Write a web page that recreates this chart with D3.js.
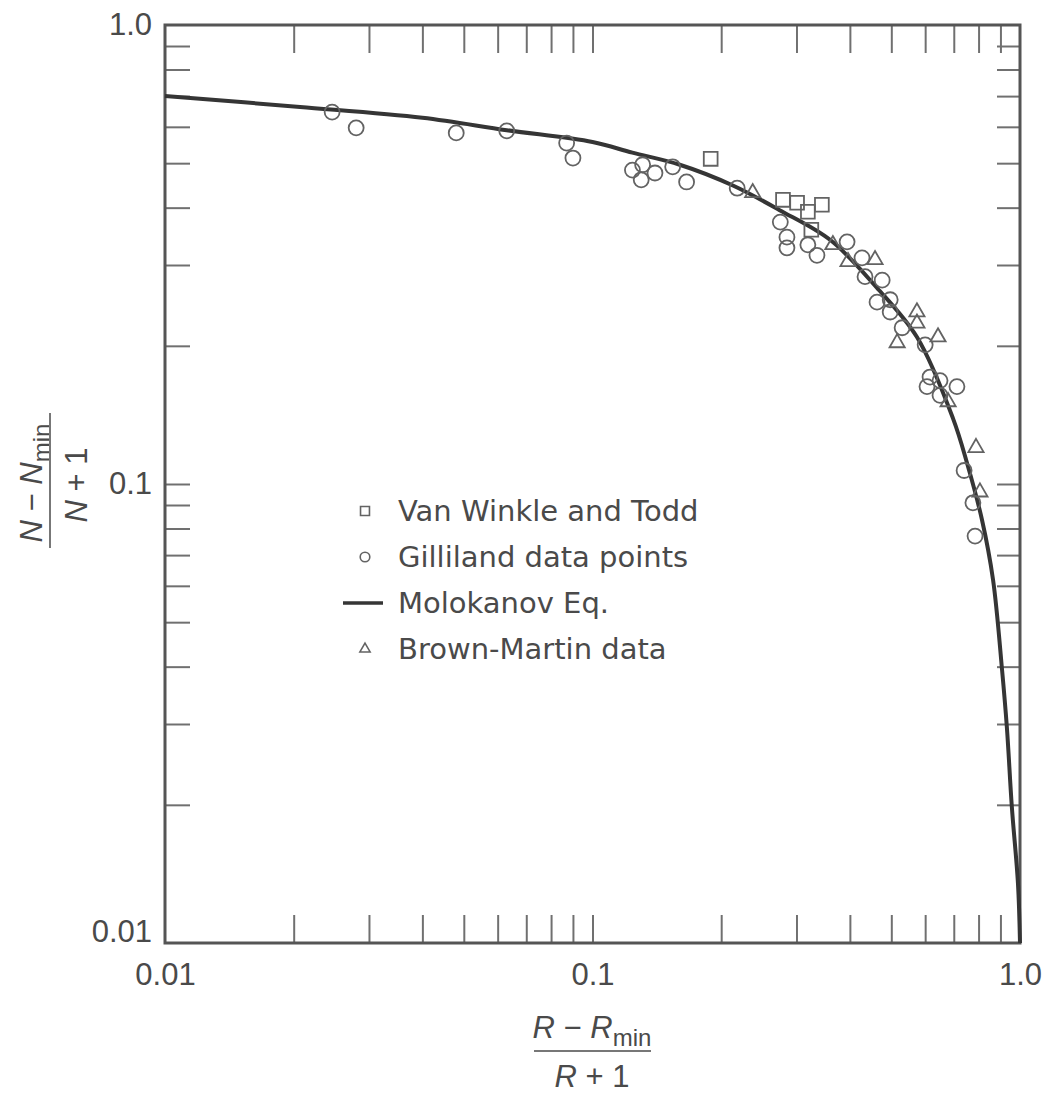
<!DOCTYPE html>
<html>
<head>
<meta charset="utf-8">
<script src="https://cdn.jsdelivr.net/npm/d3@7"></script>
<style>
  body { margin: 0; background: #fff; }
  svg { display: block; }
</style>
</head>
<body>
<div id="chart"></div>
<script>
// Molokanov curve
const curveX = [0.01, 0.0207, 0.04, 0.063, 0.1, 0.124, 0.16, 0.213, 0.274, 0.36, 0.462, 0.574, 0.697, 0.752, 0.815, 0.865, 0.908, 0.932, 0.957, 0.989, 1.0];
const curveY = [0.70, 0.663, 0.628, 0.59, 0.556, 0.527, 0.496, 0.447, 0.395, 0.34, 0.268, 0.209, 0.139, 0.111, 0.0835, 0.0618, 0.0393, 0.0294, 0.0198, 0.0135, 0.01];

// Gilliland data points (circles)
const gillilandX = [0.0246, 0.028, 0.048, 0.063, 0.087, 0.090, 0.124, 0.131, 0.130, 0.140, 0.154, 0.166, 0.218, 0.275, 0.285, 0.285, 0.319, 0.335, 0.394, 0.427, 0.434, 0.476, 0.463, 0.497, 0.497, 0.530, 0.600, 0.606, 0.650, 0.712, 0.616, 0.650, 0.740, 0.776, 0.785];
const gillilandY = [0.646, 0.597, 0.582, 0.588, 0.553, 0.513, 0.483, 0.496, 0.460, 0.476, 0.491, 0.455, 0.441, 0.372, 0.345, 0.327, 0.332, 0.315, 0.337, 0.311, 0.283, 0.278, 0.249, 0.252, 0.237, 0.219, 0.201, 0.163, 0.156, 0.163, 0.171, 0.168, 0.107, 0.091, 0.077];

// Van Winkle and Todd (squares)
const vanWinkleX = [0.189, 0.279, 0.301, 0.319, 0.344, 0.325];
const vanWinkleY = [0.511, 0.416, 0.410, 0.392, 0.406, 0.358];

// Brown-Martin data (triangles)
const brownMartinX = [0.237, 0.365, 0.396, 0.458, 0.574, 0.574, 0.516, 0.643, 0.679, 0.789, 0.806];
const brownMartinY = [0.431, 0.332, 0.305, 0.308, 0.237, 0.224, 0.203, 0.209, 0.151, 0.120, 0.096];

const majorTicks = [0.01, 0.1, 1];
const majorLabels = ["0.01", "0.1", "1.0"];
const minorTicks = [0.02, 0.03, 0.04, 0.05, 0.06, 0.07, 0.08, 0.09, 0.1, 0.2, 0.3, 0.4, 0.5, 0.6, 0.7, 0.8, 0.9];

const legendLabels = ["Van Winkle and Todd", "Gilliland data points", "Molokanov Eq.", "Brown-Martin data"];

const W = 1049, H = 1095;
const ink = "#4a4a4a";

let svg = d3.select("#chart")
  .append("svg")
  .attr("width", W)
  .attr("height", H)
  .style("background", "#fff");

let x = d3.scaleLog().domain([0.01, 1]).range([165, 1020]);
let y = d3.scaleLog().domain([0.01, 1]).range([943, 25]);

// Inward minor ticks on all four sides

function tickAxis(axis, transform) {
  let g = svg.append("g")
    .attr("transform", transform)
    .call(axis);
  g.select(".domain").remove();
  g.selectAll(".tick line").attr("stroke", "#707070").attr("stroke-width", 2);
  return g;
}

tickAxis(d3.axisBottom(x).tickValues(minorTicks).tickSize(-28).tickFormat(""), "translate(0,943)");
tickAxis(d3.axisTop(x).tickValues(minorTicks).tickSize(-28).tickFormat(""), "translate(0,25)");
tickAxis(d3.axisLeft(y).tickValues(minorTicks).tickSize(-25).tickFormat(""), "translate(165,0)");
tickAxis(d3.axisRight(y).tickValues(minorTicks).tickSize(-23).tickFormat(""), "translate(1020,0)");

// Frame

svg.append("rect")
  .attr("x", x(0.01))
  .attr("y", y(1))
  .attr("width", x(1) - x(0.01))
  .attr("height", y(0.01) - y(1))
  .attr("fill", "none")
  .attr("stroke", "#555")
  .attr("stroke-width", 3);

// Decade labels

let xLabels = svg.append("g")
  .attr("transform", "translate(0,943)")
  .call(d3.axisBottom(x).tickValues(majorTicks).tickSize(0).tickPadding(20)
    .tickFormat((d, i) => majorLabels[i]));
xLabels.select(".domain").remove();

let yLabels = svg.append("g")
  .attr("transform", "translate(165,0)")
  .call(d3.axisLeft(y).tickValues(majorTicks).tickSize(0).tickPadding(13)
    .tickFormat((d, i) => majorLabels[i]));
yLabels.select(".domain").remove();
yLabels.selectAll(".tick text").filter(d => d === 0.01).attr("dy", "-0.05em");

svg.selectAll(".tick text")
  .attr("fill", ink)
  .style("font-family", "'Liberation Sans', Arial, sans-serif")
  .style("font-size", "31px");

// Molokanov curve

const curveData = curveX.map((v, i) => [v, curveY[i]]);

svg.append("path")
  .datum(curveData)
  .attr("d", d3.line()
    .curve(d3.curveCatmullRom.alpha(0.5))
    .x(d => x(d[0]))
    .y(d => y(d[1])))
  .attr("fill", "none")
  .attr("stroke", "#353535")
  .attr("stroke-width", 4);

// Data points

const markStroke = "#636363";

svg.selectAll(".gilliland")
  .data(gillilandX.map((v, i) => [v, gillilandY[i]]))
  .enter()
  .append("circle")
  .attr("cx", d => x(d[0]))
  .attr("cy", d => y(d[1]))
  .attr("r", 7.5)
  .attr("fill", "none")
  .attr("stroke", markStroke)
  .attr("stroke-width", 1.8);

svg.selectAll(".vanwinkle")
  .data(vanWinkleX.map((v, i) => [v, vanWinkleY[i]]))
  .enter()
  .append("path")
  .attr("transform", d => "translate(" + x(d[0]) + "," + y(d[1]) + ")")
  .attr("d", d3.symbol().type(d3.symbolSquare).size(190))
  .attr("fill", "none")
  .attr("stroke", markStroke)
  .attr("stroke-width", 1.8);

svg.selectAll(".brownmartin")
  .data(brownMartinX.map((v, i) => [v, brownMartinY[i]]))
  .enter()
  .append("path")
  .attr("transform", d => "translate(" + x(d[0]) + "," + y(d[1]) + ")")
  .attr("d", d3.symbol().type(d3.symbolTriangle).size(100))
  .attr("fill", "none")
  .attr("stroke", markStroke)
  .attr("stroke-width", 1.8);

// Legend

const legendX = 365;
const legendTextX = 398;
const legendY = [511, 557, 603, 649];

svg.append("path")
  .attr("transform", "translate(" + legendX + "," + legendY[0] + ")")
  .attr("d", d3.symbol().type(d3.symbolSquare).size(80))
  .attr("fill", "none").attr("stroke", markStroke).attr("stroke-width", 1.6);
svg.append("circle")
  .attr("cx", legendX).attr("cy", legendY[1]).attr("r", 4.8)
  .attr("fill", "none").attr("stroke", markStroke).attr("stroke-width", 1.6);
svg.append("line")
  .attr("x1", legendX - 22).attr("x2", legendX + 18)
  .attr("y1", legendY[2]).attr("y2", legendY[2])
  .attr("stroke", "#353535").attr("stroke-width", 3.5);
svg.append("path")
  .attr("transform", "translate(" + legendX + "," + legendY[3] + ")")
  .attr("d", d3.symbol().type(d3.symbolTriangle).size(45))
  .attr("fill", "none").attr("stroke", markStroke).attr("stroke-width", 1.6);

svg.selectAll(".legend-label")
  .data(legendLabels)
  .enter()
  .append("text")
  .attr("x", legendTextX)
  .attr("y", (d, i) => legendY[i])
  .attr("dominant-baseline", "central")
  .attr("fill", ink)
  .style("font-family", "'DejaVu Sans', sans-serif")
  .style("font-size", "29px")
  .text(d => d);

// Axis titles (fractions)

const titleFont = "'Liberation Sans', Arial, sans-serif";

function fractionPart(g, sym, rest, withMin) {
  let t = g.append("text")
    .attr("text-anchor", "middle")
    .attr("fill", ink)
    .style("font-family", titleFont)
    .style("font-size", "31px");
  t.append("tspan").style("font-style", "italic").text(sym);
  if (withMin) {
    t.append("tspan").text(" \u2212 ");
    t.append("tspan").style("font-style", "italic").text(sym);
    t.append("tspan").attr("dy", 8).style("font-size", "24px").text("min");
  } else {
    t.append("tspan").text(rest);
  }
  return t;
}

// x title
let xNum = svg.append("g").attr("transform", "translate(592,1038)");
fractionPart(xNum, "R", "", true);
svg.append("line")
  .attr("x1", 534).attr("x2", 651)
  .attr("y1", 1051).attr("y2", 1051)
  .attr("stroke", "#777").attr("stroke-width", 2);
let xDen = svg.append("g").attr("transform", "translate(592,1087)");
fractionPart(xDen, "R", " + 1", false);

// y title
let yNum = svg.append("g").attr("transform", "translate(42,483) rotate(-90)");
fractionPart(yNum, "N", "", true);
svg.append("line")
  .attr("x1", 50).attr("x2", 50)
  .attr("y1", 413).attr("y2", 548)
  .attr("stroke", "#777").attr("stroke-width", 2);
let yDen = svg.append("g").attr("transform", "translate(87,485) rotate(-90)");
fractionPart(yDen, "N", " + 1", false);
</script>
</body>
</html>
